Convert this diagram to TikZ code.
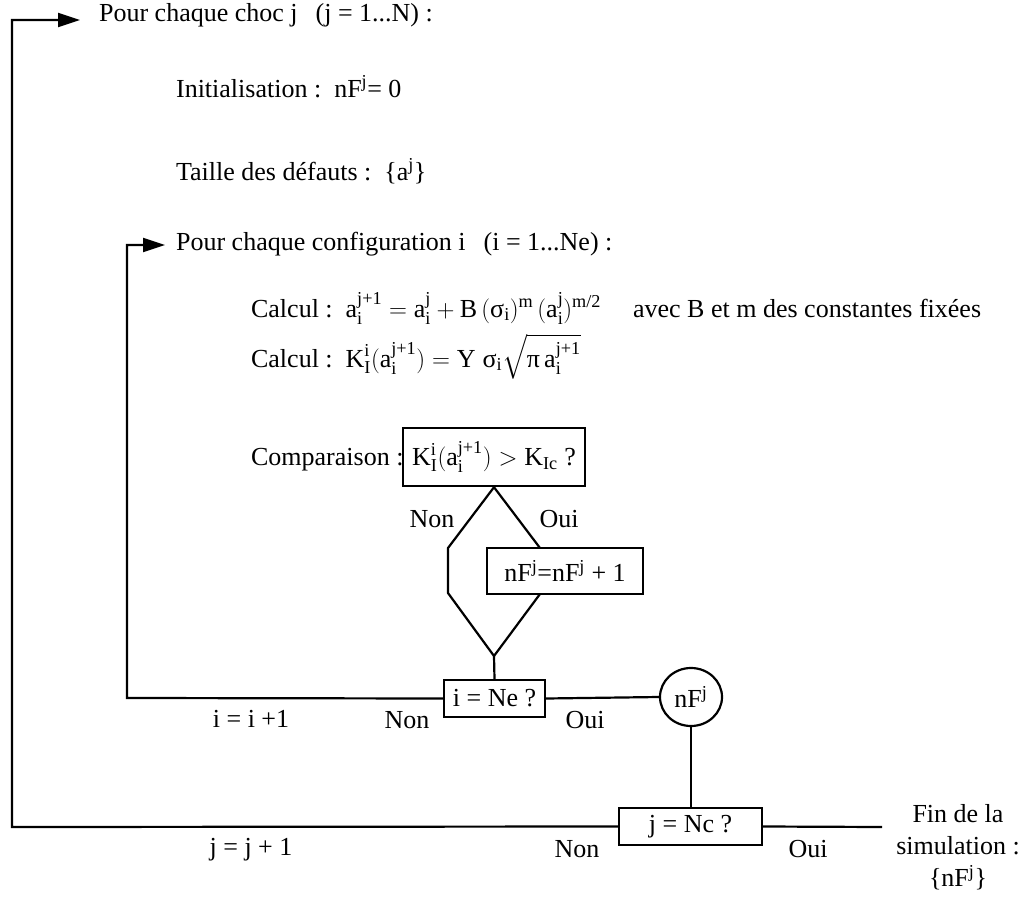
\documentclass[tikz,border=0pt]{standalone}
\usepackage{fontspec}
\setmainfont{Liberation Serif}
\usepackage{amsmath}
\usetikzlibrary{arrows.meta,shapes.geometric}
\newcommand\tr[1]{\text{#1}}
\newcommand\ai[1]{\tr{a}_{\tr{i}}^{\tr{#1}}}
\begin{document}
\begin{tikzpicture}[x=1pt,y=-1pt,line width=2.2pt,
  every node/.style={font=\fontsize{26}{31}\selectfont,inner sep=0pt},
  box/.style={draw,line width=2.4pt},
  arr/.style={-{Triangle[length=22pt,width=14pt]}},
  lbl/.style={anchor=base}]
\useasboundingbox (0,0) rectangle (1021,902);
% texts
\node[anchor=base west] (t1) at (98,21) {Pour chaque choc j\hspace{18pt}(j = 1...N) :};
\node[anchor=base west] (t2) at (175,97) {Initialisation :\ \ nF$^{\tr{j}}$= 0};
\node[anchor=base west] (t3) at (175,180) {Taille des défauts :\ \ \{a$^{\tr{j}}$\}};
\node[anchor=base west] (t4) at (175,250) {Pour chaque configuration i\hspace{18pt}(i = 1...Ne) :};
\node[anchor=base west] (c1) at (250,317) {Calcul :\ \ $\ai{j+1} = \ai{j} + \tr{B}\,(\tr{σ}_{\tr{i}})^{\tr{m}}\,(\ai{j})^{\tr{m/2}}$};
\node[anchor=base west] (avec) at (632,317) {avec B et m des constantes fixées};
\node[anchor=base west] (c2) at (250,367) {Calcul :\ \ $\tr{K}_{\tr{I}}^{\tr{i}}(\ai{j+1}) = \tr{Y}\;\tr{σ}_{\tr{i}}\sqrt{\tr{π}\,\ai{j+1}}$};
\node[anchor=base west] (comp) at (250,465) {Comparaison :};
% boxes
\node[box,minimum width=182pt,minimum height=58pt] (cmp) at (494,457) {$\tr{K}_{\tr{I}}^{\tr{i}}(\ai{j+1}) > \tr{K}_{\tr{Ic}}$ ?};
\node[box,minimum width=156pt,minimum height=46pt] (inc) at (565,571) {nF$^{\tr{j}}$=nF$^{\tr{j}}$ + 1};
\node[box,minimum width=101pt,minimum height=37pt] (ine) at (494.5,698.5) {i = Ne ?};
\node[box,minimum width=143pt,minimum height=37pt] (jnc) at (690.5,826.5) {j = Nc ?};
\node[draw,line width=2.2pt,ellipse,minimum width=62pt,minimum height=58pt] (cir) at (691,697) {nF$^{\tr{j}}$};
\node[align=center,font=\fontsize{26}{32}\selectfont] (fin) at (958,847) {Fin de la\\simulation :\\\{nF$^{\tr{j}}$\}};
% coordinates
\coordinate (ol) at (12,827);
\coordinate (ot) at (12,20);
\coordinate (oa) at (80,20);
\coordinate (il) at (127,698);
\coordinate (it) at (127,245);
\coordinate (ia) at (165,245);
\coordinate (dl1) at (448,548);
\coordinate (dl2) at (448,593);
\coordinate (dbot) at (494,656);
\coordinate (dr1) at (540,548);
\coordinate (dr2) at (540,594);
\coordinate (fe) at (882,827);
% connectors
\draw[arr] (jnc.west) -- (ol) -- (ot) -- (oa);
\draw[arr] (ine.west) -- (il) -- (it) -- (ia);
\draw (cmp.south) -- (dl1) -- (dl2) -- (dbot);
\draw (cmp.south) -- (dr1);
\draw (dr2) -- (dbot);
\draw (dbot) -- (ine.north);
\draw (ine.east) -- (cir.west);
\draw (cir.south) -- (cir.south |- jnc.north);
\draw (jnc.east) -- (fe);
% labels
\node[lbl] (l1) at (432,527) {Non};
\node[lbl] (l2) at (559,527) {Oui};
\node[lbl] (l3) at (251,727) {i = i +1};
\node[lbl] (l4) at (407,728) {Non};
\node[lbl] (l5) at (585,728) {Oui};
\node[lbl] (l6) at (251,855) {j = j + 1};
\node[lbl] (l7) at (577,857) {Non};
\node[lbl] (l8) at (808,857) {Oui};
\end{tikzpicture}
\end{document}
